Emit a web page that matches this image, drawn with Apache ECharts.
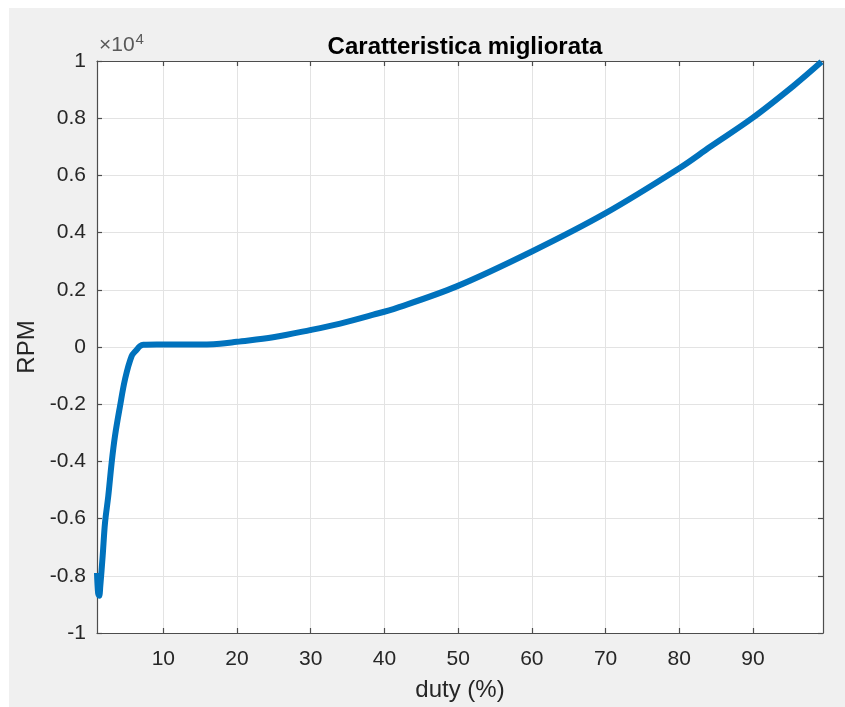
<!DOCTYPE html>
<html>
<head>
<meta charset="utf-8">
<script src="https://cdn.jsdelivr.net/npm/echarts@6/dist/echarts.min.js"></script>
<style>
  body { margin: 0; background: #fff; }
  #bg { position: absolute; left: 9px; top: 8px; width: 836px; height: 699px; background: #f0f0f0; }
  #chart { position: absolute; left: 0; top: 0; width: 845px; height: 707px; }
</style>
</head>
<body>
<div id="bg"></div>
<div id="chart"></div>
<script>
// duty (%) and RPM
const duty = [1.0, 1.15, 1.3, 1.45, 1.77, 2.09, 2.53, 2.99, 3.44, 4.12, 4.8, 5.7, 6.4, 6.83, 7.3,
  9.1, 12, 15.9, 17.7, 19.95, 24.9, 29.9, 34, 38.5, 41.7, 49.8, 60, 70, 80, 84.2, 89.9, 95.5, 99.3];
const rpm = [-7900, -8600, -8700, -8350, -7300, -6140, -5210, -4040, -3110, -2070, -1130, -320, -90, 30, 80,
  90, 90, 90, 110, 180, 340, 590, 820, 1130, 1370, 2120, 3340, 4680, 6250, 7000, 8000, 9130, 9970];
const xTicks = [10, 20, 30, 40, 50, 60, 70, 80, 90];

const axisColor = "#4d4d4d";
const textColor = "#262626";
const font = "Liberation Sans, Arial, sans-serif";

let points = duty.map((d, i) => [d, rpm[i]]);

let boxAxis = {
  axisLine: { show: true, onZero: false, lineStyle: { color: axisColor, width: 1.2 } },
  axisTick: { show: true, inside: true, length: 5, lineStyle: { color: axisColor, width: 1.2 } },
  axisLabel: { show: false },
  splitLine: { show: false }
};

let option = {
  animation: false,
  grid: { left: 97, right: 22, top: 61, bottom: 73, show: true, backgroundColor: "#fff", borderWidth: 0 },
  title: {
    text: "Caratteristica migliorata",
    left: 460,
    top: 30,
    textAlign: "center",
    textStyle: { fontFamily: font, fontSize: 24, fontWeight: "bold", color: "#000" }
  },
  graphic: [
    {
      type: "text",
      left: 99,
      top: 32,
      style: {
        text: "×10{s|4}",
        fontFamily: font,
        fontSize: 21,
        fill: "#595959",
        rich: { s: { fontSize: 15, verticalAlign: "top", padding: [0, 0, 11, 1], fill: "#595959", fontFamily: font } }
      }
    }
  ],
  xAxis: [
    {
      type: "value",
      min: 1,
      max: 99.5,
      name: "duty (%)",
      nameLocation: "middle",
      nameGap: 45,
      nameTextStyle: { fontFamily: font, fontSize: 24, color: textColor },
      axisLine: { show: true, onZero: false, lineStyle: { color: axisColor, width: 1.2 } },
      axisTick: { show: true, inside: true, length: 5, customValues: xTicks, lineStyle: { color: axisColor, width: 1.2 } },
      axisLabel: { customValues: xTicks, margin: 16, fontFamily: font, fontSize: 21, color: textColor },
      splitLine: { show: true, lineStyle: { color: "#e3e3e3", width: 1 } }
    },
    Object.assign({}, boxAxis, {
      type: "value",
      position: "top",
      min: 1,
      max: 99.5,
      axisTick: Object.assign({}, boxAxis.axisTick, { customValues: xTicks })
    })
  ],
  yAxis: [
    {
      type: "value",
      min: -10000,
      max: 10000,
      interval: 2000,
      name: "RPM",
      nameLocation: "middle",
      nameGap: 57,
      nameTextStyle: { fontFamily: font, fontSize: 24, color: textColor },
      axisLine: { show: true, onZero: false, lineStyle: { color: axisColor, width: 1.2 } },
      axisTick: { show: true, inside: true, length: 5, lineStyle: { color: axisColor, width: 1.2 } },
      axisLabel: {
        margin: 11,
        fontFamily: font,
        fontSize: 21,
        color: textColor,
        formatter: v => String(Math.round(v / 1000) / 10)
      },
      splitLine: { show: true, lineStyle: { color: "#e3e3e3", width: 1 } }
    },
    Object.assign({}, boxAxis, {
      type: "value",
      position: "right",
      min: -10000,
      max: 10000,
      interval: 2000
    })
  ],
  series: [
    {
      type: "line",
      data: points,
      smooth: 0.35,
      showSymbol: false,
      lineStyle: { color: "#0072BD", width: 6 }
    }
  ]
};

let chart = echarts.init(document.getElementById("chart"));
chart.setOption(option);
</script>
</body>
</html>
